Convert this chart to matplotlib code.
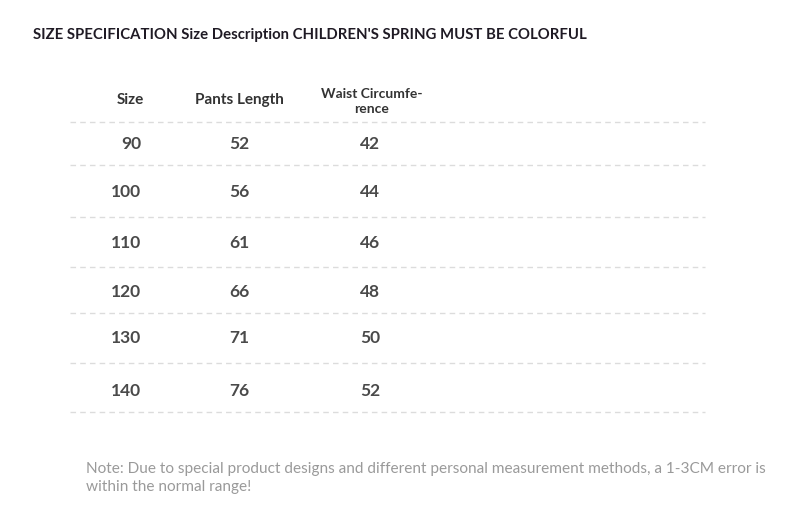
import matplotlib
matplotlib.use("Agg")
import matplotlib.pyplot as plt

# Table content
title = "SIZE SPECIFICATION Size Description CHILDREN'S SPRING MUST BE COLORFUL"
headers = ["Size", "Pants Length", "Waist Circumfe-\nrence"]
sizes = [90, 100, 110, 120, 130, 140]
pants_length = [52, 56, 61, 66, 71, 76]
waist = [42, 44, 46, 48, 50, 52]
note = ("Note: Due to special product designs and different personal measurement methods, a 1-3CM error is\n"
        "within the normal range!")

plt.rcParams['font.family'] = ['Lato', 'DejaVu Sans']

fig = plt.figure(figsize=(7.9, 5.23), dpi=100)
ax = fig.add_axes([0, 0, 1, 1])
ax.set_xlim(0, 790)
ax.set_ylim(523, 0)
ax.axis('off')

# layout in pixel units
col_x = [141.5, 239.5, 370]
col_ha = ['right', 'center', 'center']
header_x = [130, 239, 372]
header_y = 100
row_y = [144, 192, 243, 292, 338, 391]
line_y = [122, 165, 217, 267, 313, 363, 412]

ax.text(33, 35, title, fontsize=10.75, fontweight='bold', color='#1f1a24',
        ha='left', va='center')

for x, h in zip(header_x, headers):
    if '\n' in h:
        ax.text(x, header_y + 1.5, h, fontsize=10, fontweight='bold', color='#333333',
                ha='center', va='center', linespacing=1.35)
    else:
        ax.text(x, header_y, h, fontsize=11, fontweight='bold', color='#333333',
                ha='center', va='center')

for y in line_y:
    ax.plot([70, 705], [y, y], color='#dcdcdc', lw=1, dashes=(4, 3))

for i, y in enumerate(row_y):
    for x, ha, v in zip(col_x, col_ha, [sizes[i], pants_length[i], waist[i]]):
        ax.text(x, y, str(v), fontsize=12.5, fontweight='bold', color='#4a4a4a',
                ha=ha, va='center')

ax.text(86, 478, note, fontsize=11.05, color='#9a9a9a', ha='left', va='center',
        linespacing=1.35)

fig.savefig('out.png', dpi=100)
